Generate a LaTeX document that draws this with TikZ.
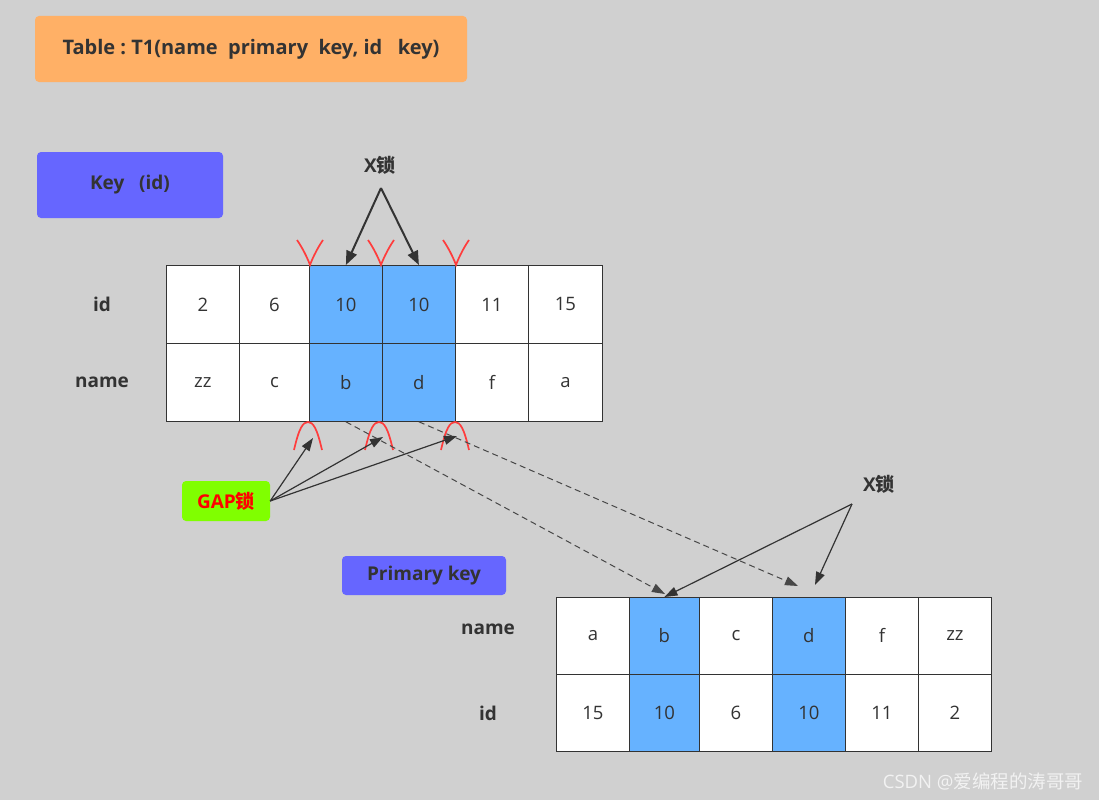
\documentclass[tikz,border=0pt]{standalone}
\usepackage{fontspec}
\setmainfont{Open Sans}
\newfontfamily\cjk{Noto Sans CJK SC}
\usetikzlibrary{arrows.meta}
\definecolor{bg}{RGB}{208,208,208}
\definecolor{orangebox}{RGB}{255,176,102}
\definecolor{violetbox}{RGB}{102,102,255}
\definecolor{cellblue}{RGB}{102,178,255}
\definecolor{txt}{RGB}{51,51,51}
\definecolor{gapgreen}{RGB}{128,255,0}
\definecolor{redmark}{RGB}{255,60,60}
\definecolor{wm}{RGB}{242,242,242}
\begin{document}
\begin{tikzpicture}[x=1pt,y=-1pt,
  font=\fontsize{18.5}{20}\selectfont,
  box/.style={rounded corners=4pt, inner sep=0pt, text=txt, font=\bfseries\fontsize{19}{21}\selectfont},
  lbl/.style={text=txt, font=\bfseries\fontsize{19}{21}\selectfont},
  cell/.style={draw=txt, line width=0.8pt, anchor=north west, inner sep=0pt, text=txt},
  xarrow/.style={draw=txt, line width=2pt, -{Triangle[length=14pt,width=11pt]}},
  thinarrow/.style={draw=txt, line width=1.2pt, -{Triangle[length=13pt,width=9pt]}},
  dasharrow/.style={draw=txt!90!white, line width=1pt, dash pattern=on 6pt off 4pt, -{Triangle[length=13pt,width=9pt]}},
  redcurve/.style={draw=redmark, line width=1.7pt}
]
\useasboundingbox[fill=bg] (0,0) rectangle (1099,800);

% boxes
\node[box, fill=orangebox, minimum width=432pt, minimum height=66pt, font=\bfseries\fontsize{20}{22}\selectfont] (title) at (251,49) {Table\ :\ T1(name\ \ primary\ \ key, id\ \ \ key)};
\node[box, fill=violetbox, minimum width=186pt, minimum height=66pt] (keyid) at (130,185) {Key\ \ \ (id)};
\node[box, fill=violetbox, minimum width=164pt, minimum height=39pt] (pk) at (424,575.5) {Primary key};
\node[box, fill=gapgreen, minimum width=88pt, minimum height=40pt, text=red] (gap) at (226,501) {GAP{\cjk\bfseries 锁}};

% row labels
\node[lbl] (lid1) at (102,304) {id};
\node[lbl] (lname1) at (102,382) {name};
\node[lbl] (lname2) at (488,629) {name};
\node[lbl] (lid2) at (488,713) {id};

% top table
\foreach \i/\x/\w/\f/\a/\b in {1/166/73/white/2/zz, 2/239/70/white/6/c, 3/309/73/cellblue/10/b, 4/382/73/cellblue/10/d, 5/455/73/white/11/f, 6/528/74/white/15/a} {
  \node[cell, fill=\f, minimum width=\w pt, minimum height=78pt] (ti\i) at (\x,265) {\a};
  \node[cell, fill=\f, minimum width=\w pt, minimum height=78pt] (tn\i) at (\x,343) {\b};
}

% bottom table
\foreach \i/\x/\w/\f/\a/\b in {1/556/73/white/a/15, 2/629/70/cellblue/b/10, 3/699/73/white/c/6, 4/772/73/cellblue/d/10, 5/845/73/white/f/11, 6/918/73/white/zz/2} {
  \node[cell, fill=\f, minimum width=\w pt, minimum height=77pt] (bn\i) at (\x,597) {\a};
  \node[cell, fill=\f, minimum width=\w pt, minimum height=77pt] (bi\i) at (\x,674) {\b};
}

% red marks (locks on record boundaries)
\foreach \x in {310,381,456} {
  \draw[redcurve] (\x-13,240) .. controls (\x-6,250) and (\x-1,262) .. (\x,265) .. controls (\x+1,262) and (\x+6,250) .. (\x+13,240);
}
\foreach \x in {308,379,455} {
  \draw[redcurve] (\x-14,450) .. controls (\x-9,428) and (\x-5,422) .. (\x,422) .. controls (\x+5,422) and (\x+9,428) .. (\x+14,450);
}

% top X lock
\node[lbl] (xtop) at (380,165) {X{\cjk\bfseries 锁}};
\coordinate (xtopa) at (381,188);
\draw[xarrow] (xtopa) -- (ti3.north);
\draw[xarrow] (xtopa) -- (ti4.north);

% GAP lock arrows
\coordinate (gapa) at (gap.east);
\coordinate (g1) at (313,438);
\coordinate (g2) at (383,437);
\coordinate (g3) at (457,436);
\draw[thinarrow] (gapa) -- (g1);
\draw[thinarrow] (gapa) -- (g2);
\draw[thinarrow] (gapa) -- (g3);

% dashed lookups
\coordinate (d1) at (665,594);
\coordinate (d2) at (798,586);
\draw[dasharrow] (tn3.south) -- (d1);
\draw[dasharrow] (tn4.south) -- (d2);

% bottom X lock
\node[lbl] (xbot) at (879,484) {X{\cjk\bfseries 锁}};
\coordinate (xbota) at (852,504);
\coordinate (x2) at (815,585);
\draw[thinarrow] (xbota) -- (bn2.north);
\draw[thinarrow] (xbota) -- (x2);

% watermark
\node[text=wm, font=\fontsize{18.5}{20}\selectfont] (wmark) at (983,782) {CSDN @{\cjk 爱编程的涛哥哥}};
\end{tikzpicture}
\end{document}
